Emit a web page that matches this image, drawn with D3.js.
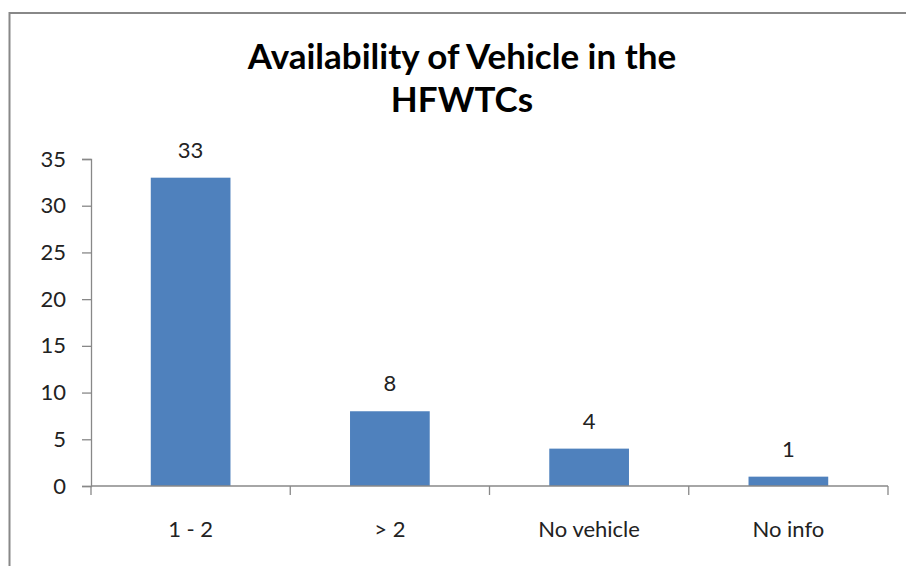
<!DOCTYPE html>
<html><head><meta charset="utf-8">
<script src="https://cdn.jsdelivr.net/npm/d3@7"></script>
<style>html,body{margin:0;padding:0;background:#fff;}svg{display:block;}</style>
</head><body>
<svg id="c" width="906" height="566"></svg>
<script>
const categories = ["1 - 2", "> 2", "No vehicle", "No info"];
const values = [33, 8, 4, 1];
const yTicks = [0, 5, 10, 15, 20, 25, 30, 35];
const titleLines = ["Availability of Vehicle in the", "HFWTCs"];

(function () {
const svg = d3.select("#c");
const font = "Lato, 'Open Sans', sans-serif";
svg.append("rect").attr("x", 9.5).attr("y", 13).attr("width", 920).attr("height", 600)
  .attr("fill", "none").attr("stroke", "#888").attr("stroke-width", 2);

const mLeft = 91, mRight = 888, mTop = 159, mBottom = 486;
const x = d3.scaleBand().domain(categories).range([mLeft, mRight]).paddingInner(0.6).paddingOuter(0.3);
const y = d3.scaleLinear().domain([0, 35]).range([mBottom, mTop]);

svg.selectAll("rect.bar").data(values).join("rect").attr("class", "bar")
  .attr("x", (d, i) => x(categories[i])).attr("width", x.bandwidth())
  .attr("y", d => y(d)).attr("height", d => y(0) - y(d)).attr("fill", "#4F81BD");

const yAxis = svg.append("g").attr("transform", `translate(${mLeft},0)`)
  .call(d3.axisLeft(y).tickValues(yTicks).tickSize(9).tickPadding(16));
const xAxis = svg.append("g").attr("transform", `translate(0,${mBottom})`)
  .call(d3.axisBottom(x).tickSize(0).tickPadding(35));
// category boundary ticks
const step = x.step();
const boundaries = d3.range(categories.length + 1).map(i => mLeft + i * (mRight - mLeft) / categories.length);
svg.selectAll("line.xt").data(boundaries).join("line").attr("class", "xt")
  .attr("x1", d => d).attr("x2", d => d).attr("y1", mBottom).attr("y2", mBottom + 9)
  .attr("stroke", "#888").attr("stroke-width", 1.3);

[yAxis, xAxis].forEach(g => {
  g.selectAll("path.domain").attr("stroke", "#888").attr("stroke-width", 1.3);
  g.selectAll(".tick line").attr("stroke", "#888").attr("stroke-width", 1.3);
  g.selectAll("text").attr("font-family", font).attr("font-size", 22).attr("fill", "#222");
});
xAxis.select("path.domain").attr("d", `M${mLeft},0H${mRight}`);

svg.selectAll("text.lbl").data(values).join("text").attr("class", "lbl")
  .attr("x", (d, i) => x(categories[i]) + x.bandwidth() / 2).attr("y", d => y(d) - 20)
  .attr("text-anchor", "middle").attr("font-family", font).attr("font-size", 22).attr("fill", "#222")
  .text(d => d);

svg.selectAll("text.title").data(titleLines).join("text").attr("class", "title")
  .attr("x", 462).attr("y", (d, i) => 69 + i * 43).attr("text-anchor", "middle")
  .attr("font-family", font).attr("font-weight", "bold").attr("font-size", 35).attr("fill", "#000")
  .text(d => d);
})();
</script>
</body></html>
